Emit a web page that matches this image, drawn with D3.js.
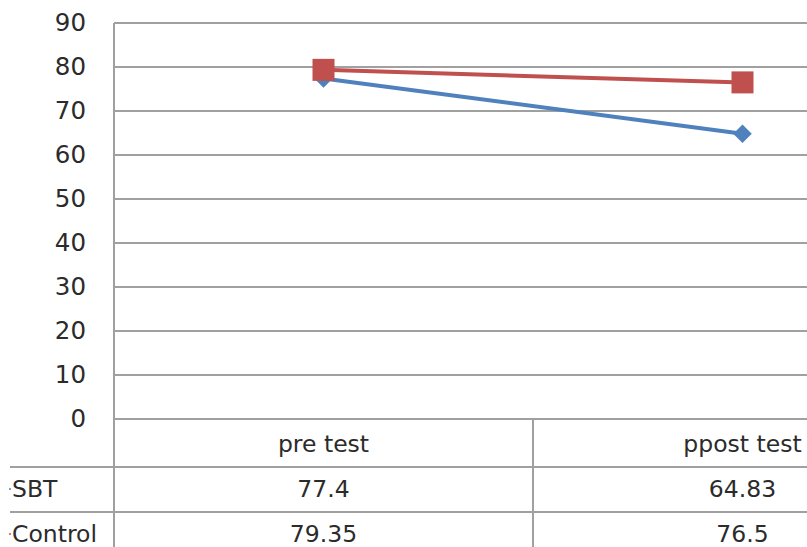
<!DOCTYPE html>
<html>
<head>
<meta charset="utf-8">
<script src="https://cdn.jsdelivr.net/npm/d3@7"></script>
<style>
body{margin:0;background:#fff;}
svg{display:block;}
text{font-family:"DejaVu Sans",sans-serif;fill:#2b2b2b;}
</style>
</head>
<body>
<div id="chart"></div>
<script>
var w=807, h=547;
var categories=["pre test","ppost test"];
var seriesNames=["SBT","Control"];
var sbt=[77.4,64.83];
var control=[79.35,76.5];
var tickVals=[0,10,20,30,40,50,60,70,80,90];
var colors=["#4F81BD","#C0504D"];

var plotLeft=114, plotTop=23, zeroY=419, bandW=419;
var fontSz="23.5px";

var svg=d3.select("#chart").append("svg").attr("width",w).attr("height",h);

var x=d3.scaleBand().domain(categories).range([plotLeft,plotLeft+bandW*categories.length]);
var y=d3.scaleLinear().domain([0,90]).range([zeroY,plotTop]);

// gridlines
svg.append("g").selectAll("line")
    .data(tickVals)
    .enter().append("line")
    .attr("x1",plotLeft).attr("x2",x.range()[1])
    .attr("y1",function(d){return y(d);}).attr("y2",function(d){return y(d);})
    .attr("stroke","#a0a0a0").attr("stroke-width",2);

// y axis labels
var yAxis=d3.axisLeft(y).tickValues(tickVals).tickSize(0).tickPadding(28);
var ya=svg.append("g").attr("transform","translate("+plotLeft+",0)").call(yAxis);
ya.select(".domain").remove();
ya.selectAll("text")
    .style("font-size","24.5px")
    .style("font-family","'DejaVu Sans',sans-serif")
    .attr("fill","#2b2b2b")
    .attr("dy","0.3em");

// table
var tbl=svg.append("g");
var rowsY=[zeroY,467,512];
tbl.selectAll("line.h")
    .data(rowsY.slice(1))
    .enter().append("line").attr("class","h")
    .attr("x1",10).attr("x2",x.range()[1])
    .attr("y1",function(d){return d;}).attr("y2",function(d){return d;})
    .attr("stroke","#a0a0a0").attr("stroke-width",2);
// vertical lines
tbl.selectAll("line.v")
    .data(x.domain().map(function(c){return x(c);}).concat([x.range()[1]]))
    .enter().append("line").attr("class","v")
    .attr("x1",function(d){return d;}).attr("x2",function(d){return d;})
    .attr("y1",function(d,i){return i==0?plotTop:zeroY;}).attr("y2",h)
    .attr("stroke","#a0a0a0").attr("stroke-width",2);

// header row
tbl.selectAll("text.head")
    .data(categories)
    .enter().append("text").attr("class","head")
    .attr("x",function(d){return x(d)+x.bandwidth()/2;})
    .attr("y",452)
    .attr("text-anchor","middle")
    .style("font-size",fontSz)
    .text(function(d){return d;});

var data=[sbt,control];
data.forEach(function(vals,si){
    var ry=rowsY[si+1];
    tbl.selectAll("text.v"+si)
        .data(vals)
        .enter().append("text").attr("class","v"+si)
        .attr("x",function(d,i){return x(categories[i])+x.bandwidth()/2;})
        .attr("y",ry+30)
        .attr("text-anchor","middle")
        .style("font-size",fontSz)
        .text(function(d){return d;});
    // legend key, mostly cropped at the left edge
    tbl.append("line")
        .attr("x1",-30).attr("x2",11)
        .attr("y1",ry+22).attr("y2",ry+22)
        .attr("stroke",colors[si]).attr("stroke-width",1.5)
        .attr("stroke-dasharray","0,39,2,10");
    tbl.append("text")
        .attr("x",12).attr("y",ry+30)
        .style("font-size",fontSz)
        .text(seriesNames[si]);
});

// lines
var line=d3.line()
    .x(function(d,i){return x(categories[i])+x.bandwidth()/2;})
    .y(function(d){return y(d);});

data.forEach(function(vals,si){
    svg.append("path")
        .datum(vals)
        .attr("d",line)
        .attr("fill","none")
        .attr("stroke",colors[si])
        .attr("stroke-width",4);
});

// SBT diamonds
svg.selectAll("path.dia")
    .data(sbt)
    .enter().append("path").attr("class","dia")
    .attr("d",d3.symbol().type(d3.symbolDiamond2).size(220))
    .attr("transform",function(d,i){return "translate("+(x(categories[i])+x.bandwidth()/2)+","+y(d)+")";})
    .attr("fill",colors[0]);

// Control squares
svg.selectAll("rect.sq")
    .data(control)
    .enter().append("rect").attr("class","sq")
    .attr("x",function(d,i){return x(categories[i])+x.bandwidth()/2-11;})
    .attr("y",function(d){return y(d)-11;})
    .attr("width",22).attr("height",22)
    .attr("fill",colors[1]);
</script>
</body>
</html>
